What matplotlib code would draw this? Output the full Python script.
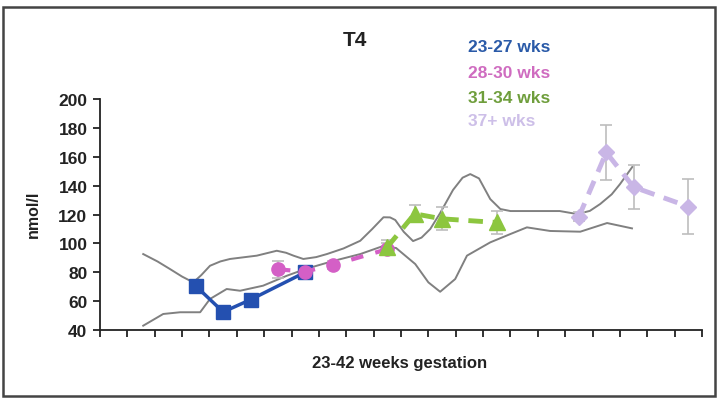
import numpy as np
import matplotlib
matplotlib.use("Agg")
import matplotlib.pyplot as plt
from matplotlib.patches import Rectangle

plt.rcParams['font.family'] = ['Liberation Sans', 'DejaVu Sans']

# group means (nmol/l) by week of gestation, with error bars
weeks_23_27 = [23, 24, 25, 27]
t4_23_27 = [70.5, 52.5, 61, 80]
err_23_27 = [4, 3, 4, 4]

weeks_28_30 = [26, 27, 28, 30]
t4_28_30 = [82, 80.5, 85, 96]
err_28_30 = [6, 4, 3, 4]

weeks_31_34 = [30, 31, 32, 34]
t4_31_34 = [97.5, 120.5, 117, 114.5]
err_31_34 = [5, 6, 8, 8]

weeks_37 = [37, 38, 39, 41]
t4_37 = [118.5, 163, 139, 125.5]
err_37 = [3, 19, 15, 19]

# reference range curves
ref_hi_weeks = [21.08, 21.6, 22.06, 22.5, 22.91, 23.2, 23.52, 23.9, 24.25, 25.23, 25.96,
                26.3, 26.57, 26.93, 27.4, 27.79, 28.4, 29.01, 29.45, 29.86, 30.1, 30.29,
                30.6, 30.94, 31.25, 31.57, 31.93, 32.4, 32.75, 33.03, 33.35, 33.76, 34.13,
                34.5, 35.6, 36.3, 36.94, 37.4, 37.78, 38.2, 38.5, 38.95]
ref_hi = [92.6, 87.5, 82.2, 77, 73.0, 78, 84.5, 87.5, 89.2, 91.5, 94.9,
          93.5, 91.5, 89.2, 90.5, 92.6, 96.5, 101.8, 110, 118.1, 118.0, 116.2,
          108, 101.6, 104, 110, 121, 137, 145.5, 148, 145, 130.7, 123.8,
          122.4, 122.4, 122.4, 120.3, 122.5, 127.3, 134, 141, 152.9]

ref_lo_weeks = [21.08, 21.81, 22.43, 23.16, 23.52, 24.13, 24.62, 25.46, 26.33, 27.0,
                28.02, 29.01, 29.85, 30.32, 31.02, 31.5, 31.93, 32.48, 32.91, 33.76,
                34.5, 35.1, 35.95, 37.05, 38.03, 38.94]
ref_lo = [43, 51.1, 52.3, 52.3, 61.5, 68.4, 67.2, 70.7, 77.6, 82.2,
          87.8, 92.6, 98.2, 96.8, 85.7, 73, 66.5, 75.3, 91.5, 100.7,
          106.5, 111.1, 108.6, 108.1, 114.1, 110.4]

labels = ['23-27 wks', '28-30 wks', '31-34 wks', '37+ wks']
line_cols = ['#2450b0', '#d45fc6', '#8cc63f', '#c9b6e6']
text_cols = ['#2a5aa8', '#cf6cc0', '#6f9e3c', '#cdbfe8']

fig = plt.figure(figsize=(7.23, 4.02), dpi=100)
ax = fig.add_axes([0.1383, 0.1766, 0.8327, 0.5746])

ax.plot(ref_hi_weeks, ref_hi, color='#808080', lw=1.4, solid_joinstyle='round')
ax.plot(ref_lo_weeks, ref_lo, color='#808080', lw=1.4, solid_joinstyle='round')

ebkw = dict(fmt='none', ecolor='#bdbdbd', elinewidth=1.2, capsize=4, capthick=1.2)
ax.errorbar(weeks_23_27, t4_23_27, yerr=err_23_27, **ebkw)
ax.errorbar(weeks_28_30, t4_28_30, yerr=err_28_30, **ebkw)
ax.errorbar(weeks_31_34, t4_31_34, yerr=err_31_34, **ebkw)
ax.errorbar(weeks_37, t4_37, yerr=err_37, **ebkw)

ax.plot(weeks_23_27, t4_23_27, color=line_cols[0], lw=2.5, marker='s', ms=9.5)
ax.plot(weeks_28_30, t4_28_30, color=line_cols[1], lw=3, ls=(0, (3, 3)), marker='o', ms=9.5)
ax.plot(weeks_31_34, t4_31_34, color=line_cols[2], lw=3.5, ls=(0, (3, 2)), marker='^', ms=11)
ax.plot(weeks_37, t4_37, color=line_cols[3], lw=3.5, ls=(0, (3, 2)), marker='D', ms=8.5)

ax.set_xlim(19.5, 41.5)
ax.set_ylim(40, 200)
ax.set_xticks(np.arange(19.5, 41.6, 1))
ax.set_xticklabels([])
ax.set_yticks(np.arange(40, 201, 20))
for s in ['top', 'right']:
    ax.spines[s].set_visible(False)
for s in ['left', 'bottom']:
    ax.spines[s].set_linewidth(1.3)
    ax.spines[s].set_color('#222222')
ax.tick_params(direction='out', length=5, width=1.3, color='#222222')
ax.tick_params(axis='y', labelsize=12.5, pad=4, labelcolor='#222222')
for t in ax.get_yticklabels():
    t.set_fontweight('bold')

fig.text(0.552, 0.097, '23-42 weeks gestation', ha='center', va='center',
         fontsize=12, fontweight='bold', color='#222222')
fig.text(0.046, 0.468, 'nmol/l', ha='center', va='center', rotation=90,
         fontsize=11.5, fontweight='bold', color='#222222')
fig.text(0.491, 0.900, 'T4', ha='center', va='center', fontsize=15,
         fontweight='bold', color='#222222')

leg_y = [0.883, 0.818, 0.756, 0.697]
for lab, c, yy in zip(labels, text_cols, leg_y):
    fig.text(0.647, yy, lab, ha='left', va='center', fontsize=12.5,
             fontweight='bold', color=c)

fig.patches.append(Rectangle((0.004, 0.013), 0.985, 0.967, transform=fig.transFigure,
                             fill=False, edgecolor='#444444', lw=1.8))

fig.savefig('out.png', dpi=100)
